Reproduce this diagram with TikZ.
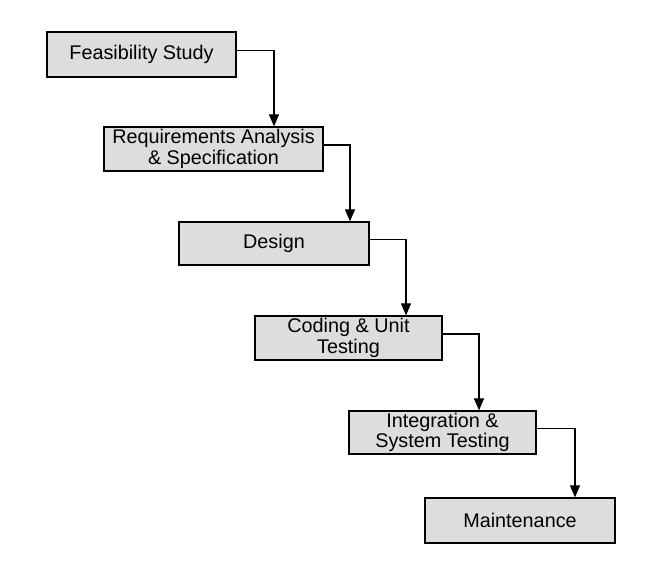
\documentclass[tikz,border=0pt]{standalone}
\usepackage{fontspec}
\setmainfont{Liberation Sans}
\usetikzlibrary{arrows.meta}
\definecolor{boxgray}{RGB}{221,221,221}
\tikzset{
  phase/.style={draw=black, fill=boxgray, line width=1.3pt, inner sep=0pt,
    align=center, font=\fontsize{19.8}{20.5}\selectfont},
  twoline/.style={execute at begin node={\rule{0pt}{27pt}}},
  flow/.style={line width=1.2pt, -{Triangle[width=10pt,length=12pt]}}
}
\begin{document}
\begin{tikzpicture}[x=1pt,y=-1pt]
      \useasboundingbox (0,0) rectangle (663,566);
      \node[phase, minimum width=189pt, minimum height=45pt] (feas) at (141.5,54.5) {Feasibility Study};
      \node[phase, twoline, minimum width=219pt, minimum height=44pt] (req) at (213.5,149) {Requirements Analysis\\\& Specification};
      \node[phase, minimum width=190pt, minimum height=43pt] (design) at (274,243.5) {Design};
      \node[phase, twoline, minimum width=187pt, minimum height=44pt] (coding) at (348.5,338) {Coding \& Unit\\Testing};
      \node[phase, twoline, minimum width=187pt, minimum height=43pt] (integ) at (442.5,432.5) {Integration \&\\System Testing};
      \node[phase, minimum width=190pt, minimum height=45pt] (maint) at (520,520.5) {Maintenance};
      \begin{scope}[flow]
        \draw ([yshift=4pt]feas.east) -| ([xshift=60.5pt]req.north);
        \draw ([yshift=4pt]req.east) -| ([xshift=76pt]design.north);
        \draw ([yshift=4pt]design.east) -| ([xshift=57.5pt]coding.north);
        \draw ([yshift=4pt]coding.east) -| ([xshift=36.5pt]integ.north);
        \draw ([yshift=4pt]integ.east) -| ([xshift=55pt]maint.north);
      \end{scope}
    \end{tikzpicture}
\end{document}
